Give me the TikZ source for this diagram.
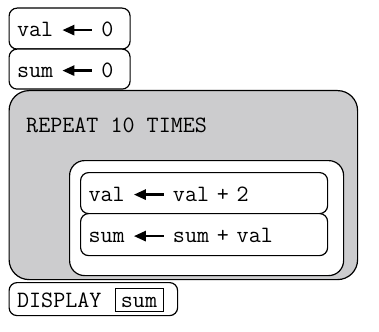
\documentclass[tikz,border=0pt]{standalone}
\usepackage{fontspec}
\usetikzlibrary{arrows.meta}
\definecolor{boxgray}{RGB}{204,204,206}
\newcommand\ttsize{\ttfamily\fontsize{23.4}{27}\selectfont}
\newcommand\larr{\tikz[baseline=-6.5pt,x=1pt,y=1pt]\draw[line width=2.6pt,{Triangle[length=12pt,width=10pt]}-](0,0)--(30,0);}
\begin{document}
\begin{tikzpicture}[x=1pt,y=-1pt,
  blk/.style={draw, line width=1.2pt, rounded corners=8pt, fill=white, anchor=north west,
    align=left, inner xsep=8pt, inner ysep=0pt, text height=16pt, text depth=0pt, font=\ttsize},
  container/.style={draw, line width=1.2pt, anchor=north west, inner sep=0pt},
  varbox/.style={draw, line width=1pt, inner sep=0pt, text height=16pt, text depth=0pt, font=\ttsize,
    minimum width=48pt, minimum height=23pt}]
\useasboundingbox (0,0) rectangle (379,331);
\node[blk, minimum width=121pt, minimum height=41pt, text width=105pt] (b1) at (8.5,7.5) {val \larr{} 0};
\node[blk, minimum width=121pt, minimum height=40pt, text width=105pt] (b2) at (8.5,48.5) {sum \larr{} 0};
\node[container, fill=boxgray, rounded corners=20pt, minimum width=348.5pt, minimum height=189pt] (rep) at (8.5,90) {};
\node[anchor=base west, inner sep=0pt, font=\ttsize] (reptxt) at (26,132) {REPEAT 10 TIMES};
\node[container, fill=white, rounded corners=15pt, minimum width=274pt, minimum height=115pt] (body) at (69,160) {};
\node[blk, minimum width=247pt, minimum height=41pt, text width=231pt] (s1) at (80,172) {val \larr{} val + 2};
\node[blk, minimum width=247pt, minimum height=42pt, text width=231pt] (s2) at (80,213) {sum \larr{} sum + val};
\node[blk, minimum width=168.5pt, minimum height=33pt, text width=152.5pt] (disp) at (8.5,282) {DISPLAY};
\node[varbox] (sumb) at (139,299.5) {sum};
\end{tikzpicture}
\end{document}
